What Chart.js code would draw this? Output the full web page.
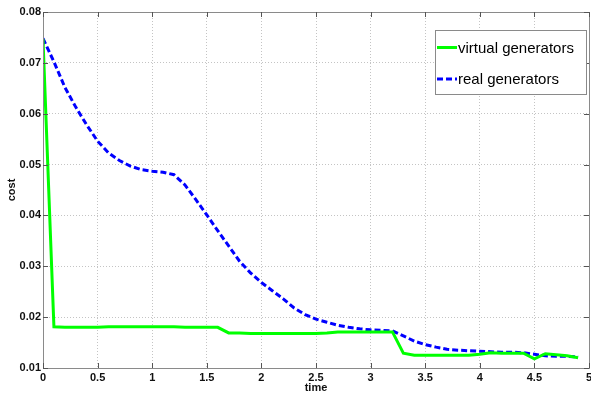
<!DOCTYPE html>
<html>
<head>
<meta charset="utf-8">
<script src="https://cdn.jsdelivr.net/npm/chart.js@4.4.0/dist/chart.umd.min.js"></script>
<style>
html, body { margin: 0; padding: 0; background: #fff; overflow: hidden; }
#wrap { width: 591px; height: 395px; position: relative; }
</style>
</head>
<body>
<div id="wrap"><canvas id="costChart"></canvas></div>
<script>
const timePoints = [0, 0.1, 0.2, 0.3, 0.4, 0.5, 0.6, 0.7, 0.8, 0.9,
    1.0, 1.1, 1.2, 1.3, 1.4, 1.5, 1.6, 1.7, 1.8, 1.9,
    2.0, 2.1, 2.2, 2.3, 2.4, 2.5, 2.6, 2.7, 2.8, 2.9,
    3.0, 3.1, 3.2, 3.3, 3.4, 3.5, 3.6, 3.7, 3.8, 3.9,
    4.0, 4.1, 4.2, 4.3, 4.4, 4.5, 4.6, 4.7, 4.8, 4.9];

const virtualCost = [0.0747, 0.0181, 0.0180, 0.0180, 0.0180, 0.0180, 0.0181, 0.0181, 0.0181, 0.0181,
    0.0181, 0.0181, 0.0181, 0.0180, 0.0180, 0.0180, 0.0180, 0.0169, 0.0169, 0.0168,
    0.0168, 0.0168, 0.0168, 0.0168, 0.0168, 0.0168, 0.0169, 0.0171, 0.0171, 0.0171,
    0.0171, 0.0171, 0.0171, 0.0129, 0.0125, 0.0125, 0.0125, 0.0125, 0.0125, 0.0125,
    0.0127, 0.0130, 0.0129, 0.0129, 0.0129, 0.0118, 0.0128, 0.0126, 0.0124, 0.0120];

const realCost = [0.0748, 0.0702, 0.0652, 0.0613, 0.0578, 0.0546, 0.0523, 0.0508, 0.0497, 0.0490,
    0.0487, 0.0485, 0.0480, 0.0460, 0.0431, 0.0401, 0.0370, 0.0340, 0.0310, 0.0287,
    0.0268, 0.0252, 0.0236, 0.0218, 0.0205, 0.0196, 0.0190, 0.0184, 0.0180, 0.0177,
    0.0175, 0.0174, 0.0173, 0.0163, 0.0153, 0.0146, 0.0141, 0.0137, 0.0135, 0.0134,
    0.0133, 0.0132, 0.0131, 0.0131, 0.0130, 0.0127, 0.0124, 0.0123, 0.0123, 0.0122];

const xTicks = [0, 0.5, 1, 1.5, 2, 2.5, 3, 3.5, 4, 4.5, 5];
const yTicks = [0.01, 0.02, 0.03, 0.04, 0.05, 0.06, 0.07, 0.08];

const seriesNames = ['virtual generators', 'real generators'];

const tickFont = { family: '"Liberation Sans", Arial, sans-serif', size: 11, weight: 'bold' };

// frame + inward tick marks like matlab axes
const framePlugin = {
    id: 'frame',
    afterDatasetsDraw(chart) {
        const ctx = chart.ctx;
        const a = chart.chartArea;
        const xs = chart.scales.x, ys = chart.scales.y;
        ctx.save();
        ctx.strokeStyle = '#8a8a8a';
        ctx.lineWidth = 1;
        ctx.strokeRect(Math.round(a.left) + 0.5, Math.round(a.top) + 0.5,
            Math.round(a.right - a.left), Math.round(a.bottom - a.top));
        ctx.strokeStyle = '#555';
        ctx.beginPath();
        xTicks.forEach(v => {
            const px = Math.round(xs.getPixelForValue(v)) + 0.5;
            ctx.moveTo(px, a.bottom); ctx.lineTo(px, a.bottom - 5);
            ctx.moveTo(px, a.top); ctx.lineTo(px, a.top + 5);
        });
        yTicks.forEach(v => {
            const py = Math.round(ys.getPixelForValue(v)) + 0.5;
            ctx.moveTo(a.left, py); ctx.lineTo(a.left + 5, py);
            ctx.moveTo(a.right, py); ctx.lineTo(a.right - 5, py);
        });
        ctx.stroke();
        ctx.restore();
    }
};

const legendPlugin = {
    id: 'boxLegend',
    afterDraw(chart) {
        const ctx = chart.ctx;
        const x0 = 435, y0 = 30, w = 151, h = 64;
        ctx.save();
        ctx.fillStyle = '#fff';
        ctx.fillRect(x0, y0, w, h);
        ctx.strokeStyle = '#8a8a8a';
        ctx.lineWidth = 1;
        ctx.strokeRect(x0 + 0.5, y0 + 0.5, w, h);
        ctx.font = '15px "Liberation Sans", Arial, sans-serif';
        ctx.textBaseline = 'middle';
        const rows = [47.5, 79];
        chart.data.datasets.forEach((ds, i) => {
            ctx.strokeStyle = ds.borderColor;
            ctx.lineWidth = 3;
            ctx.setLineDash(ds.borderDash || []);
            ctx.beginPath();
            ctx.moveTo(x0 + 2, rows[i]);
            ctx.lineTo(x0 + 22, rows[i]);
            ctx.stroke();
            ctx.setLineDash([]);
            ctx.fillStyle = '#000';
            ctx.fillText(ds.label, x0 + 23, rows[i] + 1);
        });
        ctx.restore();
    }
};

const ctx = document.getElementById('costChart').getContext('2d');
const costChart = new Chart(ctx, {
    type: 'line',
    data: {
        datasets: [{
            label: seriesNames[0],
            data: timePoints.map((t, i) => ({ x: t, y: virtualCost[i] })),
            borderColor: '#00ff00',
            borderWidth: 3,
            pointRadius: 0,
            tension: 0,
            fill: false
        }, {
            label: seriesNames[1],
            data: timePoints.map((t, i) => ({ x: t, y: realCost[i] })),
            borderColor: '#0000ff',
            borderWidth: 3,
            borderDash: [6, 3],
            pointRadius: 0,
            tension: 0,
            fill: false
        }]
    },
    options: {
        responsive: true,
        maintainAspectRatio: false,
        animation: false,
        layout: { padding: { top: 12, right: 2, left: 0, bottom: 0 } },
        plugins: {
            legend: { display: false },
            tooltip: { enabled: false }
        },
        scales: {
            x: {
                type: 'linear',
                min: 0,
                max: 5,
                afterBuildTicks: s => { s.ticks = xTicks.map(v => ({ value: v })); },
                afterFit: s => { s.height = 27; s.paddingLeft = 0; s.paddingRight = 0; },
                ticks: {
                    font: tickFont,
                    color: '#111',
                    padding: 3,
                    maxRotation: 0,
                    autoSkip: false,
                    callback: v => String(v)
                },
                grid: { color: '#c4c4c4', lineWidth: 1, drawTicks: false },
                border: { display: false, dash: [1, 2] },
                title: {
                    display: true,
                    text: 'time',
                    font: tickFont,
                    color: '#111',
                    padding: { top: 0, bottom: 0 }
                }
            },
            y: {
                min: 0.01,
                max: 0.08,
                afterBuildTicks: s => { s.ticks = yTicks.map(v => ({ value: v })); },
                afterFit: s => { s.width = 43; s.paddingTop = 0; s.paddingBottom = 0; },
                ticks: {
                    font: tickFont,
                    color: '#111',
                    padding: 2,
                    autoSkip: false,
                    callback: v => v.toFixed(2)
                },
                grid: { color: '#c4c4c4', lineWidth: 1, drawTicks: false },
                border: { display: false, dash: [1, 2] },
                title: {
                    display: true,
                    text: 'cost',
                    font: tickFont,
                    color: '#111',
                    padding: { top: 5, bottom: 0 }
                }
            }
        }
    },
    plugins: [framePlugin, legendPlugin]
});
</script>
</body>
</html>
